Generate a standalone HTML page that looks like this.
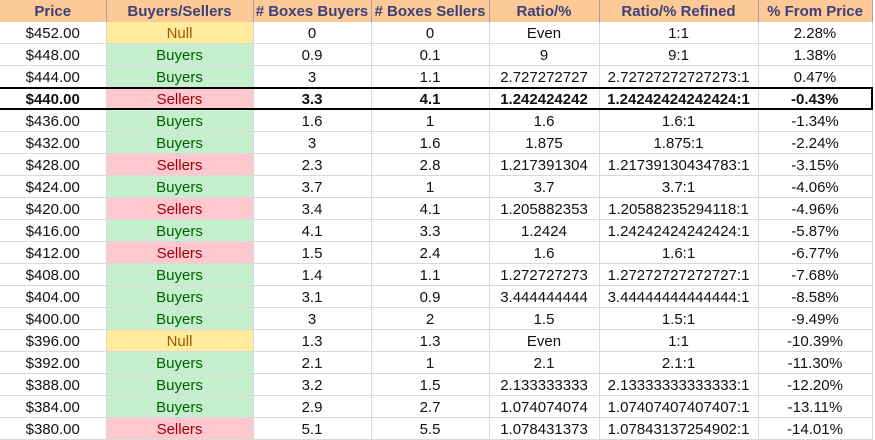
<!DOCTYPE html>
<html><head><meta charset="utf-8"><style>
body{margin:0;width:875px;height:438px;overflow:hidden;background:#fff;font-family:"Liberation Sans",sans-serif;}
table{border-collapse:collapse;table-layout:fixed;position:absolute;left:0;top:0;}
td,th{height:19px;padding:2px 0 0 0;text-align:center;font-size:15px;color:#111;border-right:1px solid #d9d9d9;border-bottom:1px solid #d9d9d9;white-space:nowrap;overflow:hidden;}
th{background:#fdc996;color:#3c4178;font-weight:bold;font-size:15px;font-family:"Liberation Sans Narrow","Liberation Sans",sans-serif;border-right:1px solid #a0a0b0;border-bottom:none;height:22px;padding:0;}
.N{background:#ffeb9c;color:#9c5700}
.B{background:#c6efce;color:#006100}
.S{background:#ffc7ce;color:#9c0006}
tr.hl td{font-weight:bold;border-top:2px solid #000;border-bottom:2px solid #000;height:17px;}
tr.hl td.S{font-weight:normal}
tr.hl td:last-child{border-right:2px solid #000}
</style></head><body>
<table>
<colgroup><col style="width:106px"><col style="width:147px"><col style="width:118px"><col style="width:118px"><col style="width:110px"><col style="width:159px"><col style="width:114px"><col style="width:3px"></colgroup>
<tr><th>Price</th><th>Buyers/Sellers</th><th># Boxes Buyers</th><th># Boxes Sellers</th><th>Ratio/%</th><th>Ratio/% Refined</th><th>% From Price</th><th style="background:#fff;border:none"></th></tr>
<tr><td>$452.00</td><td class="N">Null</td><td>0</td><td>0</td><td>Even</td><td>1:1</td><td>2.28%</td></tr>
<tr><td>$448.00</td><td class="B">Buyers</td><td>0.9</td><td>0.1</td><td>9</td><td>9:1</td><td>1.38%</td></tr>
<tr><td>$444.00</td><td class="B">Buyers</td><td>3</td><td>1.1</td><td>2.727272727</td><td>2.72727272727273:1</td><td>0.47%</td></tr>
<tr class="hl"><td>$440.00</td><td class="S">Sellers</td><td>3.3</td><td>4.1</td><td>1.242424242</td><td>1.24242424242424:1</td><td>-0.43%</td></tr>
<tr><td>$436.00</td><td class="B">Buyers</td><td>1.6</td><td>1</td><td>1.6</td><td>1.6:1</td><td>-1.34%</td></tr>
<tr><td>$432.00</td><td class="B">Buyers</td><td>3</td><td>1.6</td><td>1.875</td><td>1.875:1</td><td>-2.24%</td></tr>
<tr><td>$428.00</td><td class="S">Sellers</td><td>2.3</td><td>2.8</td><td>1.217391304</td><td>1.21739130434783:1</td><td>-3.15%</td></tr>
<tr><td>$424.00</td><td class="B">Buyers</td><td>3.7</td><td>1</td><td>3.7</td><td>3.7:1</td><td>-4.06%</td></tr>
<tr><td>$420.00</td><td class="S">Sellers</td><td>3.4</td><td>4.1</td><td>1.205882353</td><td>1.20588235294118:1</td><td>-4.96%</td></tr>
<tr><td>$416.00</td><td class="B">Buyers</td><td>4.1</td><td>3.3</td><td>1.2424</td><td>1.24242424242424:1</td><td>-5.87%</td></tr>
<tr><td>$412.00</td><td class="S">Sellers</td><td>1.5</td><td>2.4</td><td>1.6</td><td>1.6:1</td><td>-6.77%</td></tr>
<tr><td>$408.00</td><td class="B">Buyers</td><td>1.4</td><td>1.1</td><td>1.272727273</td><td>1.27272727272727:1</td><td>-7.68%</td></tr>
<tr><td>$404.00</td><td class="B">Buyers</td><td>3.1</td><td>0.9</td><td>3.444444444</td><td>3.44444444444444:1</td><td>-8.58%</td></tr>
<tr><td>$400.00</td><td class="B">Buyers</td><td>3</td><td>2</td><td>1.5</td><td>1.5:1</td><td>-9.49%</td></tr>
<tr><td>$396.00</td><td class="N">Null</td><td>1.3</td><td>1.3</td><td>Even</td><td>1:1</td><td>-10.39%</td></tr>
<tr><td>$392.00</td><td class="B">Buyers</td><td>2.1</td><td>1</td><td>2.1</td><td>2.1:1</td><td>-11.30%</td></tr>
<tr><td>$388.00</td><td class="B">Buyers</td><td>3.2</td><td>1.5</td><td>2.133333333</td><td>2.13333333333333:1</td><td>-12.20%</td></tr>
<tr><td>$384.00</td><td class="B">Buyers</td><td>2.9</td><td>2.7</td><td>1.074074074</td><td>1.07407407407407:1</td><td>-13.11%</td></tr>
<tr><td>$380.00</td><td class="S">Sellers</td><td>5.1</td><td>5.5</td><td>1.078431373</td><td>1.07843137254902:1</td><td>-14.01%</td></tr>
</table>
</body></html>
